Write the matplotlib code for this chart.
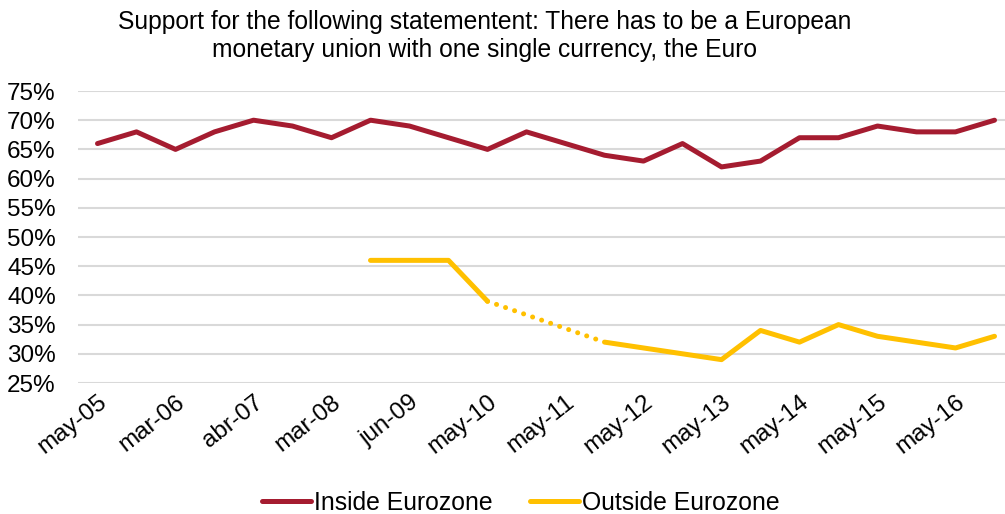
import numpy as np
import matplotlib
matplotlib.use("Agg")
import matplotlib.pyplot as plt
from matplotlib.ticker import PercentFormatter

plt.rcParams['font.family'] = ['Liberation Sans', 'DejaVu Sans']

# survey waves (only every other one is labelled on the axis)
waves = ['may-05', 'oct-05', 'mar-06', 'sep-06', 'abr-07', 'oct-07',
         'mar-08', 'oct-08', 'jun-09', 'nov-09', 'may-10', 'nov-10',
         'may-11', 'nov-11', 'may-12', 'nov-12', 'may-13', 'nov-13',
         'may-14', 'nov-14', 'may-15', 'nov-15', 'may-16', 'nov-16']

inside = [66, 68, 65, 68, 70, 69, 67, 70, 69, 67, 65, 68,
          66, 64, 63, 66, 62, 63, 67, 67, 69, 68, 68, 70]

nan = np.nan
outside = [nan, nan, nan, nan, nan, nan, nan, 46, 46, 46, 39, nan,
           nan, 32, 31, 30, 29, 34, 32, 35, 33, 32, 31, 33]

red = '#A51C30'
yellow = '#FFC000'

fig = plt.figure(figsize=(10.05, 5.14), dpi=100)
ax = fig.add_axes([78 / 1005, 131 / 514, 936 / 1005, 292 / 514])

x = np.arange(len(waves))
yin = np.array(inside) / 100
yout = np.array(outside) / 100

ax.plot(x, yin, color=red, lw=3.6, solid_capstyle='round',
        solid_joinstyle='round', label='Inside Eurozone', zorder=3)
ax.plot(x, yout, color=yellow, lw=3.6, solid_capstyle='round',
        solid_joinstyle='round', label='Outside Eurozone', zorder=3)

# dotted bridge over missing waves
valid = ~np.isnan(yout)
idx = np.where(valid)[0]
for a, b in zip(idx[:-1], idx[1:]):
    if b - a > 1:
        ax.plot([x[a], x[b]], [yout[a], yout[b]], color=yellow, lw=3.6,
                linestyle=(0, (0.01, 1.9)), dash_capstyle='round', zorder=3)

ax.set_xlim(-0.5, len(waves) - 0.5)
ax.set_ylim(0.25, 0.75)
ax.set_yticks(np.arange(0.25, 0.751, 0.05))
ax.yaxis.set_major_formatter(PercentFormatter(1.0, decimals=0))
ax.grid(axis='y', color='#D9D9D9', lw=1.5)
ax.set_axisbelow(True)
for s in ax.spines.values():
    s.set_visible(False)

ax.set_xticks(x[::2])
ax.set_xticklabels(waves[::2], rotation=38, ha='right',
                   rotation_mode='anchor')
ax.tick_params(axis='both', length=0, labelsize=17.5, colors='black')
ax.tick_params(axis='y', pad=16)
ax.tick_params(axis='x', pad=6)

fig.text(0.482, 0.93,
         'Support for the following statementent: There has to be a European\n'
         'monetary union with one single currency, the Euro',
         ha='center', va='center', fontsize=17.7, linespacing=1.2)

fig.legend(loc='center', bbox_to_anchor=(0.518, 0.022), ncol=2,
           frameon=False, fontsize=17.8, handlelength=2.0,
           handletextpad=0.1, columnspacing=1.5)

fig.savefig('out.png', dpi=100)
